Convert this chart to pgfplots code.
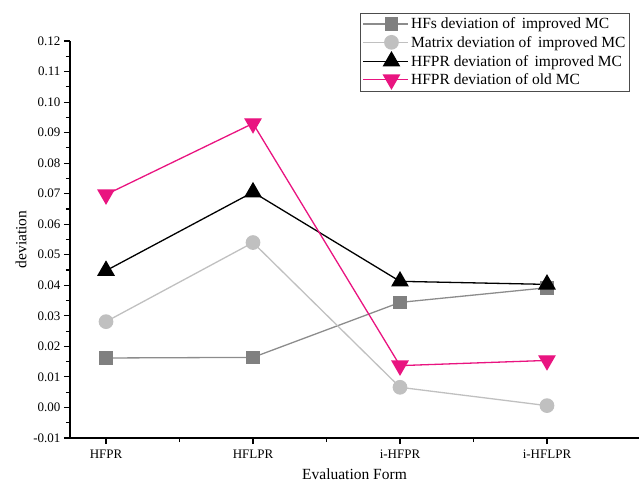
\documentclass[border=0pt]{standalone}
\usepackage{fontspec}
\setmainfont{Liberation Serif}
\usepackage{pgfplots}
\pgfplotsset{compat=1.18}
\definecolor{sqgray}{RGB}{128,128,128}
\definecolor{sqline}{RGB}{140,140,140}
\definecolor{cigray}{RGB}{192,192,192}
\definecolor{mag}{RGB}{233,20,128}
\begin{document}
\begin{tikzpicture}
\begin{axis}[
  scale only axis,
  width=569pt, height=397pt,
  xmin=-0.245, xmax=3.626,
  ymin=-0.01, ymax=0.12,
  axis x line*=bottom, axis y line*=left,
  axis line style={line width=1.2pt, -},
  xtick={0,1,2,3},
  xticklabels={HFPR,HFLPR,i-HFPR,i-HFLPR},
  minor xtick={0.5,1.5,2.5},
  ytick={-0.01,0,0.01,0.02,0.03,0.04,0.05,0.06,0.07,0.08,0.09,0.10,0.11,0.12},
  yticklabels={-0.01,0.00,0.01,0.02,0.03,0.04,0.05,0.06,0.07,0.08,0.09,0.10,0.11,0.12},
  minor ytick={-0.005,0.005,0.015,0.025,0.035,0.045,0.055,0.065,0.075,0.085,0.095,0.105,0.115},
  tick align=outside,
  major tick length=6pt, minor tick length=4pt,
  every tick/.style={black, line width=1.1pt},
  tick label style={font=\fontsize{13}{15}\selectfont},
  /pgf/number format/assume math mode=true,
  xticklabel style={yshift=-2pt},
  xlabel={Evaluation Form},
  ylabel={deviation},
  label style={font=\fontsize{15.5}{18}\selectfont},
  xlabel style={yshift=-4pt},
  ylabel style={yshift=0pt},
  clip=false,
  legend style={at={(0.984,1.0705)}, anchor=north east, draw=black!70, line width=0.8pt,
    font=\fontsize{15.5}{17}\selectfont, inner xsep=2pt, inner ysep=2.5pt,
    row sep=1.8pt, cells={anchor=west}},
  legend image code/.code={
    \path (-11pt,0pt) -- (34pt,0pt);
    \draw[mark repeat=2,mark phase=2,#1] plot coordinates {(0pt,0pt) (17pt,0pt) (34pt,0pt)};
  },
]
\addplot[sqline, line width=1.3pt, mark=square*, mark size=6.2pt, mark options={sqgray, draw=sqgray, fill=sqgray}]
  coordinates {(0,0.0162) (1,0.0164) (2,0.0344) (3,0.0392)};
\addlegendentry{HFs deviation of\, improved MC}
\addplot[cigray, line width=1.3pt, mark=*, mark size=6.7pt, mark options={cigray, fill=cigray}]
  coordinates {(0,0.0281) (1,0.0540) (2,0.0066) (3,0.0006)};
\addlegendentry{Matrix deviation of\, improved MC}
\addplot[black, line width=1.3pt, mark=triangle*, mark size=9pt, mark options={black, fill=black}]
  coordinates {(0,0.0448) (1,0.0705) (2,0.0413) (3,0.0403)};
\addlegendentry{HFPR deviation of\, improved MC}
\addplot[mag, line width=1.3pt, mark=triangle*, mark size=9pt, mark options={mag, fill=mag, rotate=180}]
  coordinates {(0,0.0697) (1,0.0930) (2,0.0137) (3,0.0154)};
\addlegendentry{HFPR deviation of old MC}
\coordinate (ll) at (rel axis cs:0,0);
\coordinate (ur) at (rel axis cs:1,1);
\end{axis}
\pgfresetboundingbox
\path[use as bounding box] ([xshift=-70pt,yshift=-51pt]ll) rectangle ([yshift=41pt]ur);
\end{tikzpicture}
\end{document}
